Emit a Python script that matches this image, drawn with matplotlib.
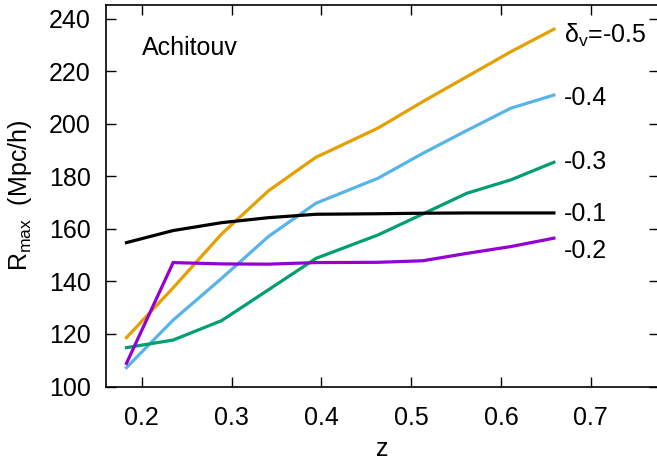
import matplotlib
matplotlib.use("Agg")
import matplotlib.pyplot as plt

plt.rcParams['font.family'] = ['Liberation Sans', 'DejaVu Sans']
plt.rcParams['mathtext.fontset'] = 'custom'
plt.rcParams['mathtext.rm'] = 'Liberation Sans'
plt.rcParams['mathtext.it'] = 'Liberation Sans:italic'

z = [0.183, 0.235, 0.289, 0.341, 0.394, 0.463, 0.513, 0.562, 0.611, 0.659]

r_m01 = [154.8, 159.4, 162.4, 164.3, 165.6, 165.8, 166.0, 166.1, 166.1, 166.1]
r_m02 = [108.8, 147.2, 146.7, 146.6, 147.2, 147.3, 147.9, 150.7, 153.3, 156.5]
r_m03 = [114.8, 117.7, 125.1, 136.8, 148.8, 157.7, 165.7, 173.6, 178.7, 185.4]
r_m04 = [107.2, 125.3, 141.2, 157.1, 169.8, 179.3, 188.8, 197.5, 206.0, 211.0]
r_m05 = [118.6, 137.6, 158.1, 174.5, 187.3, 198.4, 208.5, 218.0, 227.5, 236.1]

labels = [r'δ$_{\mathrm{v}}$=-0.5', '-0.4', '-0.3', '-0.1', '-0.2']
xticks = [0.2, 0.3, 0.4, 0.5, 0.6, 0.7]
yticks = [100, 120, 140, 160, 180, 200, 220, 240]

series = [
    (r_m05, '#e69f00', labels[0], -10.0),
    (r_m04, '#56b4e9', labels[1], -7.0),
    (r_m03, '#009e73', labels[2], -4.5),
    (r_m01, '#000000', labels[3], -5.5),
    (r_m02, '#9400d3', labels[4], -14.0),
]

fig = plt.figure(figsize=(6.57, 4.63), dpi=100)
ax = fig.add_axes([0.1613, 0.1652, 1.003 - 0.1613, 0.9892 - 0.1652])

for vals, col, lab, dy in series:
    ax.plot(z, vals, color=col, lw=2.3, solid_joinstyle='miter', clip_on=False)
    ax.annotate(lab, xy=(z[-1], vals[-1]), xytext=(7.2, dy),
                textcoords='offset points', ha='left', va='baseline',
                fontsize=18, color='black')

ax.set_xlim(0.1602, 0.776)
ax.set_ylim(100, 245.3)
ax.set_xticks(xticks)
ax.set_xticklabels([f'{t:.1f}' for t in xticks])
ax.set_yticks(yticks)
ax.set_yticklabels([str(t) for t in yticks])
ax.tick_params(direction='in', length=7.2, width=1.0, top=True, right=True,
               labelsize=18)
ax.tick_params(axis='x', pad=14)
ax.tick_params(axis='y', pad=11)
for sp in ax.spines.values():
    sp.set_linewidth(1.2)

ax.set_xlabel('z', fontsize=18, labelpad=5)
ax.set_ylabel(r'R$_{\mathrm{max}}$  (Mpc/h)', fontsize=18, labelpad=11)

ax.text(0.0646, 0.869, 'Achitouv', transform=ax.transAxes, fontsize=18,
        ha='left', va='baseline')

fig.savefig('out.png', dpi=100)
